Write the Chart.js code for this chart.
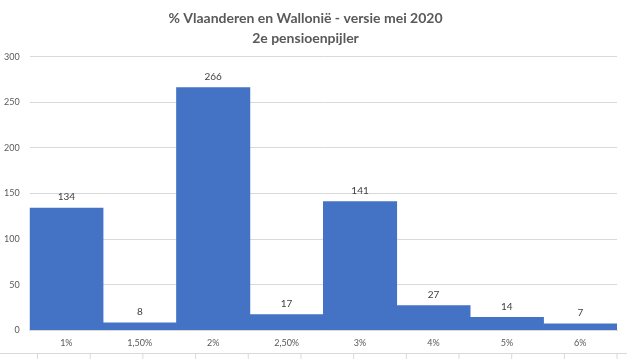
<!DOCTYPE html>
<html>
<head>
<meta charset="utf-8">
<script src="https://cdn.jsdelivr.net/npm/chart.js@4"></script>
<style>
    html, body { margin: 0; padding: 0; background: #fff; }
    #wrap { width: 627px; height: 353px; position: relative; }
    /* cell borders of the sheet showing under the chart */
    #sheet {
        width: 627px; height: 5px;
        border-top: 1px solid #d9d9d9;
        background-image: linear-gradient(to right, #d9d9d9 1px, transparent 1px);
        background-size: 52.7px 100%;
        background-position: 37px 0;
    }
</style>
</head>
<body>
<div id="wrap"><canvas id="chart"></canvas></div>
<div id="sheet"></div>
<script>
// ========================================
// Vlaanderen en Wallonië — 2e pensioenpijler
// ========================================

const titleLines = ['% Vlaanderen en Wallonië - versie mei 2020', '2e pensioenpijler'];
const categories = ['1%', '1,50%', '2%', '2,50%', '3%', '4%', '5%', '6%'];
const counts = [134, 8, 266, 17, 141, 27, 14, 7];
const yTicks = [0, 50, 100, 150, 200, 250, 300];

const textColor = '#595959';
const gridColor = '#d9d9d9';
const barColor = '#4472C4';
const fontFamily = 'Lato, "Open Sans", sans-serif';

// value labels above each bar (no datalabels plugin offline)
const valueLabels = {
    id: 'valueLabels',
    afterDatasetsDraw(chart) {
        const ctx = chart.ctx;
        const meta = chart.getDatasetMeta(0);
        ctx.save();
        ctx.font = '10px ' + fontFamily;
        ctx.fillStyle = '#404040';
        ctx.textAlign = 'center';
        ctx.textBaseline = 'middle';
        meta.data.forEach((bar, i) => {
            ctx.fillText(String(counts[i]), bar.x, bar.y - 11);
        });
        ctx.restore();
    }
};

new Chart(document.getElementById('chart'), {
    type: 'bar',
    data: {
        labels: categories,
        datasets: [{
            data: counts,
            backgroundColor: barColor,
            borderWidth: 0,
            barPercentage: 1,
            categoryPercentage: 1
        }]
    },
    options: {
        responsive: true,
        maintainAspectRatio: false,
        animation: false,
        layout: { padding: { left: -6, right: 10, top: 2, bottom: -2 } },
        plugins: {
            legend: { display: false },
            tooltip: { enabled: false },
            title: {
                display: true,
                text: titleLines,
                color: textColor,
                font: { family: fontFamily, size: 14, weight: 'bold', lineHeight: 1.45 },
                padding: { top: 6, bottom: 8 }
            }
        },
        scales: {
            x: {
                grid: { display: false, drawTicks: false },
                border: { color: gridColor },
                ticks: {
                    color: textColor,
                    font: { family: fontFamily, size: 9 },
                    padding: 7,
                    maxRotation: 0
                }
            },
            y: {
                min: 0,
                max: 300,
                afterBuildTicks(axis) { axis.ticks = yTicks.map(v => ({ value: v })); },
                grid: { color: gridColor, drawTicks: false },
                border: { display: false },
                ticks: {
                    color: textColor,
                    font: { family: fontFamily, size: 9 },
                    padding: 10
                }
            }
        }
    },
    plugins: [valueLabels]
});
</script>
</body>
</html>
